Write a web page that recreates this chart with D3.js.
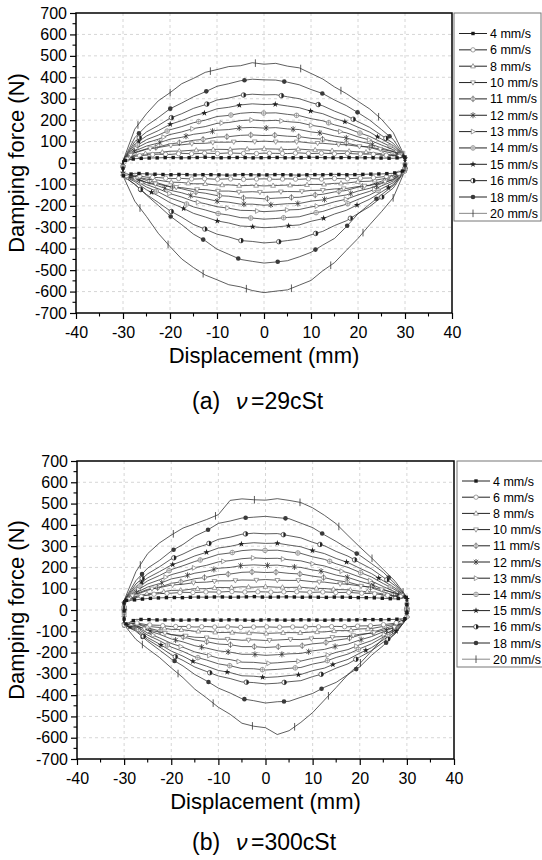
<!DOCTYPE html>
<html>
<head>
<meta charset="utf-8">
<script src="https://cdn.jsdelivr.net/npm/d3@7"></script>
<style>
  body { margin: 0; background: #fff; }
  svg { display: block; }
  text { font-family: "Liberation Sans", Arial, sans-serif; fill: #000; }
</style>
</head>
<body>
<svg id="fig" width="542" height="860"></svg>
<script>
// Piston speeds (one hysteresis loop per speed)
const speeds = ["4 mm/s", "6 mm/s", "8 mm/s", "10 mm/s", "11 mm/s", "12 mm/s",
                "13 mm/s", "14 mm/s", "15 mm/s", "16 mm/s", "18 mm/s", "20 mm/s"];

// Displacement stations (mm) shared by every branch
const disp = [-30, -27.5, -25, -22.5, -20, -17.5, -15, -12.5, -10, -7.5, -5, -2.5, 0,
              2.5, 5, 7.5, 10, 12.5, 15, 17.5, 20, 22.5, 25, 27.5, 30];

const xTicks = [-40, -30, -20, -10, 0, 10, 20, 30, 40];
const yTicks = [-700, -600, -500, -400, -300, -200, -100, 0, 100, 200, 300, 400, 500, 600, 700];

// (a) 29 cSt oil — force (N) on the forward stroke, one row per speed
const upperA = [
  [10, 20, 23, 24, 26, 24, 25, 27, 24, 25, 26, 24, 25, 26, 24, 25, 27, 25, 24, 26, 24, 25, 23, 22, 28],
  [10, 31, 38, 41, 40, 45, 43, 46, 44, 47, 45, 43, 46, 45, 44, 47, 44, 46, 43, 45, 42, 42, 38, 34, 28],
  [10, 36, 45, 48, 55, 56, 60, 60, 64, 63, 66, 64, 66, 65, 63, 65, 61, 61, 57, 56, 52, 50, 43, 37, 28],
  [10, 50, 66, 72, 82, 85, 91, 92, 97, 97, 101, 99, 102, 99, 98, 99, 93, 92, 87, 85, 78, 74, 64, 53, 28],
  [10, 47, 64, 75, 89, 96, 106, 111, 121, 123, 129, 131, 128, 130, 125, 123, 115, 111, 100, 93, 81, 73, 57, 45, 28],
  [10, 56, 79, 93, 111, 120, 134, 141, 153, 156, 164, 166, 163, 165, 159, 156, 145, 139, 126, 117, 102, 90, 70, 54, 28],
  [10, 66, 94, 111, 133, 145, 161, 170, 185, 189, 198, 201, 197, 199, 193, 189, 176, 168, 152, 141, 122, 107, 84, 62, 28],
  [10, 76, 109, 130, 155, 170, 188, 200, 217, 222, 232, 236, 233, 234, 227, 221, 207, 197, 178, 164, 143, 124, 97, 71, 28],
  [10, 88, 126, 151, 180, 198, 220, 234, 253, 260, 271, 276, 273, 274, 266, 258, 242, 230, 208, 191, 167, 144, 112, 81, 28],
  [10, 100, 145, 175, 209, 230, 255, 272, 294, 303, 316, 321, 318, 319, 309, 300, 282, 267, 242, 221, 193, 166, 129, 92, 28],
  [10, 118, 174, 212, 253, 280, 309, 332, 358, 370, 384, 391, 388, 387, 377, 365, 343, 324, 294, 268, 235, 200, 156, 110, 28],
  [10, 158, 230, 290, 328, 370, 395, 423, 436, 450, 454, 468, 461, 465, 452, 444, 418, 392, 355, 324, 288, 252, 204, 142, 28]
];
// (a) 29 cSt oil — force (N) on the return stroke
const lowerA = [
  [-60, -48, -51, -53, -55, -53, -56, -54, -55, -57, -54, -55, -56, -54, -55, -57, -54, -55, -53, -55, -54, -52, -51, -48, -35],
  [-60, -57, -66, -68, -73, -72, -75, -73, -76, -74, -77, -75, -74, -76, -74, -76, -73, -75, -72, -74, -71, -70, -65, -59, -35],
  [-60, -62, -75, -80, -89, -91, -97, -97, -103, -102, -106, -104, -107, -105, -103, -105, -100, -100, -95, -94, -87, -85, -75, -66, -35],
  [-60, -72, -91, -99, -111, -115, -123, -124, -131, -131, -136, -134, -137, -135, -133, -134, -128, -127, -121, -119, -110, -105, -92, -78, -35],
  [-60, -63, -81, -94, -110, -120, -134, -141, -152, -155, -163, -163, -167, -164, -161, -160, -151, -146, -135, -128, -113, -103, -85, -70, -35],
  [-60, -68, -91, -107, -127, -139, -156, -166, -178, -183, -192, -192, -197, -194, -190, -189, -178, -172, -158, -149, -131, -118, -96, -77, -35],
  [-60, -73, -101, -120, -143, -159, -179, -190, -204, -211, -221, -222, -227, -224, -219, -217, -205, -197, -181, -169, -149, -132, -107, -84, -35],
  [-60, -80, -112, -135, -163, -182, -205, -219, -235, -243, -255, -257, -262, -259, -254, -251, -236, -226, -208, -193, -170, -149, -120, -92, -35],
  [-60, -87, -125, -153, -185, -208, -235, -252, -270, -280, -294, -297, -302, -299, -293, -289, -272, -260, -238, -221, -194, -169, -135, -101, -35],
  [-60, -99, -147, -184, -223, -253, -287, -309, -332, -345, -362, -366, -373, -369, -362, -355, -335, -319, -292, -270, -236, -203, -160, -117, -35],
  [-60, -100, -150, -198, -247, -288, -332, -363, -402, -426, -450, -459, -467, -462, -456, -438, -417, -383, -352, -298, -237, -192, -148, -106, -35],
  [-60, -178, -250, -328, -390, -448, -488, -523, -545, -568, -578, -595, -605, -598, -592, -570, -548, -503, -465, -408, -352, -288, -227, -162, -35]
];

// (b) 300 cSt oil — forward stroke
const upperB = [
  [45, 48, 54, 57, 59, 58, 61, 60, 62, 60, 61, 63, 60, 61, 62, 60, 61, 59, 61, 60, 58, 58, 55, 52, 60],
  [45, 58, 71, 77, 79, 83, 82, 85, 84, 87, 84, 86, 85, 83, 87, 85, 83, 85, 82, 83, 79, 78, 71, 65, 60],
  [45, 63, 77, 82, 92, 93, 100, 100, 106, 105, 109, 107, 110, 107, 106, 107, 102, 101, 96, 95, 88, 85, 75, 66, 60],
  [45, 76, 97, 105, 117, 121, 129, 131, 137, 137, 141, 140, 143, 140, 139, 139, 133, 131, 124, 121, 113, 107, 94, 80, 60],
  [45, 72, 93, 107, 125, 134, 147, 154, 166, 169, 177, 179, 176, 178, 172, 169, 159, 152, 139, 131, 116, 104, 85, 68, 60],
  [45, 81, 108, 124, 146, 157, 173, 182, 196, 200, 209, 212, 209, 211, 204, 200, 188, 180, 164, 153, 135, 120, 97, 77, 60],
  [45, 90, 122, 142, 166, 181, 199, 210, 226, 232, 241, 245, 242, 243, 236, 231, 217, 207, 189, 175, 155, 136, 110, 85, 60],
  [45, 100, 137, 162, 190, 208, 228, 243, 261, 268, 279, 283, 280, 281, 273, 266, 250, 238, 217, 200, 177, 155, 124, 95, 60],
  [45, 110, 151, 180, 211, 231, 254, 271, 291, 299, 311, 316, 313, 314, 305, 297, 279, 265, 242, 223, 196, 171, 137, 103, 60],
  [45, 122, 170, 203, 240, 263, 290, 308, 332, 342, 356, 361, 358, 359, 349, 339, 318, 302, 275, 253, 222, 193, 154, 114, 60],
  [45, 138, 197, 233, 277, 308, 347, 373, 407, 418, 432, 436, 440, 434, 429, 408, 387, 353, 322, 288, 257, 218, 177, 123, 60],
  [45, 180, 265, 315, 352, 385, 405, 425, 448, 515, 522, 518, 516, 523, 515, 505, 480, 445, 405, 350, 296, 245, 190, 135, 60]
];
// (b) 300 cSt oil — return stroke
const lowerB = [
  [-70, -44, -45, -47, -46, -48, -46, -47, -48, -46, -47, -49, -46, -47, -48, -46, -47, -48, -46, -47, -46, -45, -46, -44, -40],
  [-70, -60, -70, -72, -78, -77, -80, -78, -81, -79, -82, -80, -79, -81, -79, -81, -78, -80, -77, -79, -75, -74, -69, -62, -40],
  [-70, -63, -77, -82, -91, -93, -100, -100, -106, -105, -109, -107, -110, -108, -106, -107, -103, -103, -97, -97, -89, -87, -77, -67, -40],
  [-70, -74, -94, -103, -116, -120, -128, -130, -137, -137, -142, -140, -143, -141, -138, -139, -134, -133, -126, -124, -114, -109, -95, -80, -40],
  [-70, -64, -84, -98, -115, -126, -141, -149, -160, -163, -172, -172, -176, -173, -170, -169, -159, -154, -142, -134, -118, -107, -88, -72, -40],
  [-70, -71, -96, -114, -136, -150, -168, -179, -192, -198, -208, -208, -213, -210, -206, -204, -192, -185, -170, -160, -141, -125, -102, -81, -40],
  [-70, -78, -108, -131, -157, -175, -197, -210, -226, -233, -245, -246, -251, -248, -243, -240, -227, -217, -199, -186, -163, -144, -116, -90, -40],
  [-70, -83, -118, -144, -174, -195, -220, -235, -253, -262, -275, -276, -282, -279, -274, -270, -254, -243, -223, -207, -182, -159, -127, -97, -40],
  [-70, -89, -130, -160, -193, -217, -246, -264, -284, -294, -309, -311, -317, -314, -308, -303, -285, -273, -250, -232, -203, -177, -140, -105, -40],
  [-70, -95, -139, -173, -210, -237, -268, -289, -310, -322, -338, -341, -347, -344, -337, -332, -313, -298, -273, -253, -221, -191, -151, -112, -40],
  [-70, -100, -147, -188, -230, -263, -303, -333, -367, -390, -417, -426, -437, -431, -429, -410, -392, -363, -340, -303, -267, -213, -167, -110, -40],
  [-70, -138, -182, -223, -272, -318, -372, -413, -457, -490, -532, -546, -553, -585, -567, -528, -482, -423, -364, -303, -252, -193, -132, -84, -40]
];

const svg = d3.select("#fig");

// Origin-style symbol set, in legend order
function drawMarker(g, kind, x, y) {
  const m = g.append("g").attr("transform", `translate(${x},${y})`);
  const ink = "#1a1a1a", soft = "#7a7a7a";
  switch (kind) {
    case 0:
      m.append("rect").attr("x", -1.7).attr("y", -1.7).attr("width", 3.4).attr("height", 3.4).attr("fill", ink); break;
    case 1:
      m.append("circle").attr("r", 2.2).attr("fill", "#fff").attr("stroke", soft).attr("stroke-width", 0.7); break;
    case 2:
      m.append("path").attr("d", "M0,-2.6L2.4,1.7L-2.4,1.7Z").attr("fill", "#fff").attr("stroke", soft).attr("stroke-width", 0.7); break;
    case 3:
      m.append("path").attr("d", "M0,2.6L2.4,-1.7L-2.4,-1.7Z").attr("fill", "#fff").attr("stroke", soft).attr("stroke-width", 0.7); break;
    case 4:
      m.append("circle").attr("r", 2.1).attr("fill", "#fff").attr("stroke", soft).attr("stroke-width", 0.7);
      m.append("path").attr("d", "M0,-3.2V3.2").attr("stroke", "#444").attr("stroke-width", 0.7); break;
    case 5:
      m.append("path").attr("d", "M-2.2,-2.2L2.2,2.2M-2.2,2.2L2.2,-2.2M0,-3V3").attr("stroke", "#333").attr("stroke-width", 0.8); break;
    case 6:
      m.append("path").attr("d", "M2.6,0L-1.7,-2.4L-1.7,2.4Z").attr("fill", "#fff").attr("stroke", soft).attr("stroke-width", 0.7); break;
    case 7:
      m.append("circle").attr("r", 2.3).attr("fill", "#fff").attr("stroke", soft).attr("stroke-width", 0.7);
      m.append("path").attr("d", "M-2.3,0H2.3M0,-2.3V2.3").attr("stroke", soft).attr("stroke-width", 0.6); break;
    case 8:
      m.append("path").attr("d", d3.symbol(d3.symbolStar, 12)()).attr("fill", "#222"); break;
    case 9:
      m.append("circle").attr("r", 2.3).attr("fill", "#fff").attr("stroke", "#333").attr("stroke-width", 0.7);
      m.append("path").attr("d", "M0,-2.3A2.3,2.3 0 0 1 0,2.3Z").attr("fill", "#222"); break;
    case 10:
      m.append("circle").attr("r", 2.3).attr("fill", "#3a3a3a"); break;
    case 11:
      m.append("path").attr("d", "M0,-3.8V3.8").attr("stroke", "#333").attr("stroke-width", 0.8); break;
  }
}

// marker spacing along each loop, in px of path length
const markerGap = [8, 13, 17, 21, 24, 27, 30, 33, 36, 38, 40, 46];

function panel(cfg) {
  const x = d3.scaleLinear().domain([-40, 40]).range([cfg.left, cfg.right]);
  const y = d3.scaleLinear().domain([-700, 700]).range([cfg.bottom, cfg.top]);
  const g = svg.append("g");

  // dashed grid at major ticks
  g.append("g").selectAll("line").data(xTicks.slice(1, -1)).join("line")
    .attr("x1", d => x(d)).attr("x2", d => x(d)).attr("y1", cfg.top).attr("y2", cfg.bottom)
    .attr("stroke", "#cccccc").attr("stroke-width", 0.8).attr("stroke-dasharray", "3,3");
  g.append("g").selectAll("line").data(yTicks.slice(1, -1)).join("line")
    .attr("y1", d => y(d)).attr("y2", d => y(d)).attr("x1", cfg.left).attr("x2", cfg.right)
    .attr("stroke", "#cccccc").attr("stroke-width", 0.8).attr("stroke-dasharray", "3,3");

  // loops, largest first
  const line = d3.line().x(d => x(d[0])).y(d => y(d[1]));
  const loops = g.append("g");
  for (let s = speeds.length - 1; s >= 0; s--) {
    const pts = cfg.upper[s].map((f, i) => [disp[i], f])
      .concat(cfg.lower[s].map((f, i) => [disp[i], f]).reverse());
    const p = loops.append("path").attr("d", line(pts) + "Z")
      .attr("fill", "none").attr("stroke", "#2a2a2a").attr("stroke-width", 0.75);
    const node = p.node(), len = node.getTotalLength();
    const mg = loops.append("g");
    for (let d = markerGap[s] * (0.3 + 0.05 * s); d < len; d += markerGap[s]) {
      const pt = node.getPointAtLength(d);
      drawMarker(mg, s, pt.x, pt.y);
    }
  }

  // frame
  g.append("rect").attr("x", cfg.left).attr("y", cfg.top)
    .attr("width", cfg.right - cfg.left).attr("height", cfg.bottom - cfg.top)
    .attr("fill", "none").attr("stroke", "#000").attr("stroke-width", 1.5);

  // axes (plain hyphen for negative labels)
  const fmt = d => String(d);
  const xAxis = d3.axisBottom(x).tickValues(xTicks).tickSize(6).tickPadding(4).tickFormat(fmt);
  const yAxis = d3.axisLeft(y).tickValues(yTicks).tickSize(6).tickPadding(3).tickFormat(fmt);
  const gx = g.append("g").attr("transform", `translate(0,${cfg.bottom})`).call(xAxis);
  const gy = g.append("g").attr("transform", `translate(${cfg.left},0)`).call(yAxis);
  [gx, gy].forEach(a => {
    a.select(".domain").remove();
    a.selectAll(".tick line").attr("stroke", "#000").attr("stroke-width", 1.2);
    a.selectAll(".tick text").attr("font-size", 16).attr("font-family", "Liberation Sans, Arial, sans-serif").attr("fill", "#000");
  });
  gx.selectAll(".tick text").attr("dy", "0.95em");
  // minor ticks
  const xMinor = xTicks.slice(0, -1).map(v => v + 5);
  const yMinor = yTicks.slice(0, -1).map(v => v + 50);
  g.append("g").selectAll("line").data(xMinor).join("line")
    .attr("x1", d => x(d)).attr("x2", d => x(d)).attr("y1", cfg.bottom).attr("y2", cfg.bottom + 3.5)
    .attr("stroke", "#000").attr("stroke-width", 1.1);
  g.append("g").selectAll("line").data(yMinor).join("line")
    .attr("y1", d => y(d)).attr("y2", d => y(d)).attr("x1", cfg.left).attr("x2", cfg.left - 3.5)
    .attr("stroke", "#000").attr("stroke-width", 1.1);

  // titles
  g.append("text").attr("x", (cfg.left + cfg.right) / 2).attr("y", cfg.bottom + 50)
    .attr("text-anchor", "middle").attr("font-size", 22).text("Displacement (mm)");
  g.append("text").attr("transform", `translate(16,${(cfg.top + cfg.bottom) / 2}) rotate(-90)`)
    .attr("text-anchor", "middle").attr("dy", "0.35em").attr("font-size", 22).text("Damping force (N)");

  // caption
  const cap = g.append("g").attr("transform", `translate(192,${cfg.capY})`);
  cap.append("text").attr("font-size", 23).text(cfg.tag);
  cap.append("text").attr("x", 44).attr("font-size", 23)
    .attr("font-family", "Liberation Serif, Times New Roman, serif").attr("font-style", "italic").text("ν");
  cap.append("text").attr("x", 59).attr("font-size", 23).text(cfg.fluid);

  // legend
  const lg = g.append("g");
  lg.append("rect").attr("x", cfg.lgLeft).attr("y", cfg.top)
    .attr("width", cfg.lgRight - cfg.lgLeft).attr("height", cfg.lgBottom - cfg.top)
    .attr("fill", "#fff").attr("stroke", "#777").attr("stroke-width", 1);
  speeds.forEach((name, i) => {
    const yy = cfg.lgFirst + i * cfg.lgStep;
    lg.append("line").attr("x1", cfg.lgLeft + 5).attr("x2", cfg.lgLeft + 33)
      .attr("y1", yy).attr("y2", yy).attr("stroke", i === 11 ? "#888" : "#222").attr("stroke-width", 1);
    drawMarker(lg, i, cfg.lgLeft + 19, yy);
    lg.append("text").attr("x", cfg.lgLeft + 36).attr("y", yy).attr("dy", "0.36em")
      .attr("font-size", 12.5).text(name);
  });
}

panel({ left: 76, right: 452, top: 13, bottom: 313, upper: upperA, lower: lowerA,
        tag: "(a)", fluid: "=29cSt", capY: 409,
        lgLeft: 454, lgRight: 541, lgBottom: 221, lgFirst: 33.5, lgStep: 16.35 });
panel({ left: 77, right: 454, top: 461, bottom: 759, upper: upperB, lower: lowerB,
        tag: "(b)", fluid: "=300cSt", capY: 850,
        lgLeft: 457, lgRight: 548, lgBottom: 667, lgFirst: 481, lgStep: 16.2 });
</script>
</body>
</html>
